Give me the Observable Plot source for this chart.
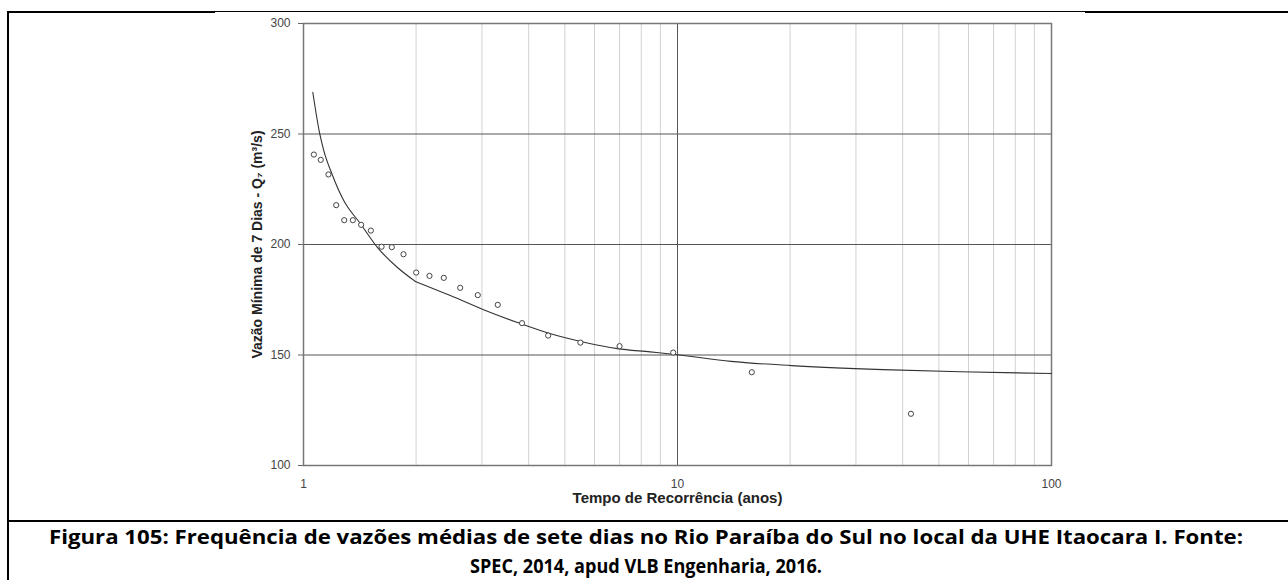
<!DOCTYPE html>
<html><head><meta charset="utf-8">
<script src="https://cdn.jsdelivr.net/npm/d3@7"></script>
<script src="https://cdn.jsdelivr.net/npm/@observablehq/plot@0.6"></script>
<style>
html,body{margin:0;padding:0;background:#fff}
body{width:1288px;height:580px;overflow:hidden;position:relative}
#chart{position:absolute;left:0;top:0}
#overlay{position:absolute;left:0;top:0}
</style></head><body>
<div id="chart"></div>
<svg id="overlay" width="1288" height="580" xmlns="http://www.w3.org/2000/svg">
  <rect x="8" y="11" width="207" height="2" fill="#000"/>
  <rect x="215" y="11" width="870" height="1" fill="#000"/>
  <rect x="1085" y="11" width="203" height="2" fill="#000"/>
  <rect x="7" y="11" width="2" height="569" fill="#000"/>
  <rect x="7" y="520" width="1281" height="2" fill="#000"/>
  <text x="646" y="544" text-anchor="middle" font-family="Open Sans, sans-serif" font-weight="bold" font-size="20" textLength="1194" lengthAdjust="spacingAndGlyphs" fill="#000">Figura 105: Frequência de vazões médias de sete dias no Rio Paraíba do Sul no local da UHE Itaocara I. Fonte:</text>
  <text x="646" y="573" text-anchor="middle" font-family="Open Sans, sans-serif" font-weight="bold" font-size="20" textLength="352" lengthAdjust="spacingAndGlyphs" fill="#000">SPEC, 2014, apud VLB Engenharia, 2016.</text>
</svg>
<script>
// Observed data points (recurrence time in years, 7-day minimum flow m³/s)
const recurrence = [1.066,1.112,1.166,1.223,1.285,1.355,1.426,1.514,1.617,1.722,1.851,2.001,2.172,2.372,2.624,2.924,3.307,3.84,4.51,5.5,7.0,9.74,15.8,42.1];
const flow = [240.7,238.3,231.7,217.8,211.0,211.0,208.9,206.3,199.0,198.8,195.6,187.3,185.8,184.9,180.4,177.1,172.7,164.4,158.8,155.6,154.0,151.1,142.2,123.4];
// Fitted distribution curve (two branches meeting at T = 2)
const curveT = [1.059,1.104,1.133,1.193,1.281,1.420,1.574,1.780,1.99,2.47,3.03,3.82,4.58,5.62,6.90,8.45,10,13.9,20.2,35.5,57,100];
const curveQ = [268.9,250.5,242.5,231.7,219.9,209.4,198.8,189.7,183.3,176.9,170.5,164.1,159.6,155.8,152.9,151.4,150.1,147.1,145.2,143.4,142.4,141.6];
const curveBreak = 1.99;
// Axis ticks
const xTicks = [1,10,100];
const xMinor = [2,3,4,5,6,7,8,9,20,30,40,50,60,70,80,90];
const xMajorGrid = [10];
const yTicks = [100,150,200,250,300];
const yMajorGrid = [150,200,250];
const xTitle = "Tempo de Recorrência (anos)";
const yTitle = "Vazão Mínima de 7 Dias - Q₇ (m³/s)";

const points = recurrence.map((t,i)=>({t, q: flow[i]}));
const curve = [];
curveT.forEach((t,i)=>{
  if (t <= curveBreak) curve.push({t, q: curveQ[i], seg: "a"});
  if (t >= curveBreak) curve.push({t, q: curveQ[i], seg: "b"});
});

const plot = Plot.plot({
  width: 1288, height: 520,
  marginLeft: 303, marginRight: 237, marginTop: 23, marginBottom: 55,
  x: {type: "log", domain: [1,100]},
  y: {domain: [100,300]},
  style: {fontFamily: "Liberation Sans, Arial, sans-serif", fontSize: "12px", color: "#444", background: "transparent"},
  marks: [
    Plot.ruleX(xMinor, {stroke: "#d2d2d2", strokeWidth: 1}),
    Plot.ruleY(yMajorGrid, {stroke: "#555", strokeWidth: 1}),
    Plot.ruleX(xMajorGrid, {stroke: "#555", strokeWidth: 1}),
    Plot.frame({stroke: "#777", strokeWidth: 1.5}),
    Plot.axisY(yTicks, {tickSize: 5, tickPadding: 8, label: null, stroke: "#666", fill: "#444", fontSize: 12}),
    Plot.axisX(xTicks, {tickSize: 0, tickPadding: 14, label: null, tickFormat: d => String(d), fill: "#444", fontSize: 12}),
    Plot.line(curve, {x: "t", y: "q", z: "seg", curve: "monotone-x", stroke: "#333", strokeWidth: 1.1}),
    Plot.dot(points, {x: "t", y: "q", r: 2.6, stroke: "#444", fill: "white", strokeWidth: 1}),
    Plot.text([yTitle], {frameAnchor: "left", dx: -46, rotate: -90, textAnchor: "middle", fontWeight: "bold", fontSize: 14, fill: "#222"}),
    Plot.text([xTitle], {frameAnchor: "bottom", dy: 37, textAnchor: "middle", fontWeight: "bold", fontSize: 15, fill: "#222"})
  ]
});
document.getElementById("chart").appendChild(plot);
</script>
</body></html>
